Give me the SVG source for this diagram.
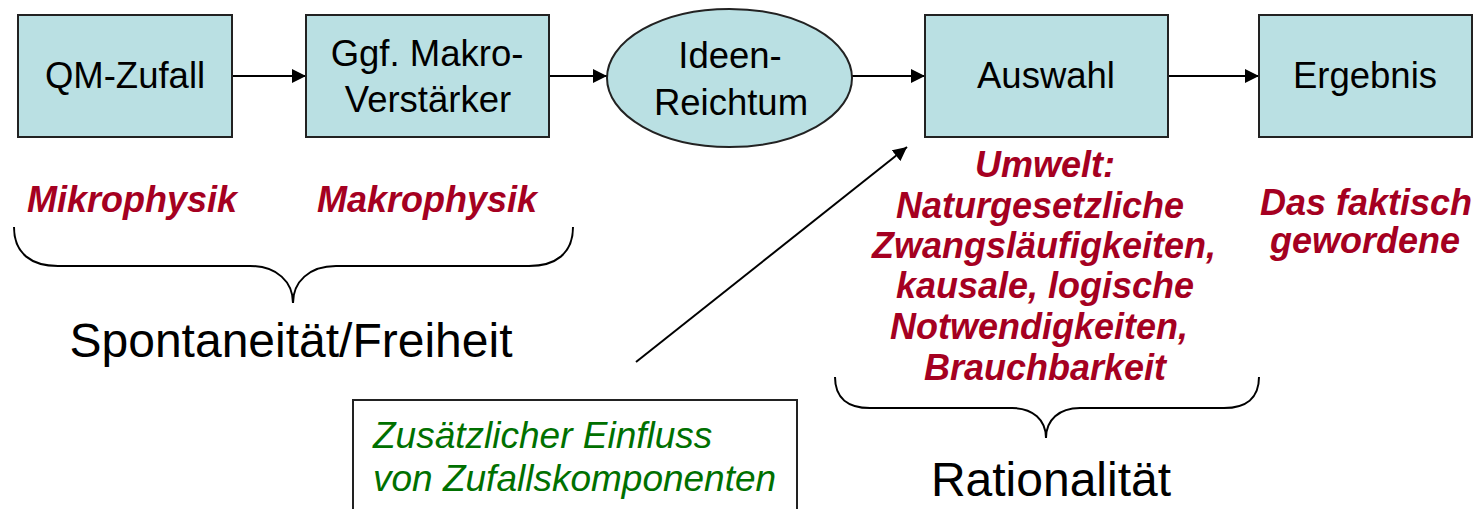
<svg xmlns="http://www.w3.org/2000/svg" width="1483" height="509" viewBox="0 0 1483 509">
<style>
.box{fill:#BAE0E3;stroke:#222;stroke-width:2}
.lbl{font-family:"Liberation Sans",Arial,sans-serif;font-size:36.5px;fill:#000;text-anchor:middle}
.red{font-family:"Liberation Sans",Arial,sans-serif;font-size:36px;font-weight:bold;font-style:italic;fill:#A50021;text-anchor:middle}
.big{font-family:"Liberation Sans",Arial,sans-serif;font-size:48px;fill:#000;text-anchor:middle}
.grn{font-family:"Liberation Sans",Arial,sans-serif;font-size:37px;font-style:italic;fill:#007000}
.con{stroke:#000;stroke-width:2;fill:none}
</style>
<defs>
<marker id="ah" markerUnits="userSpaceOnUse" markerWidth="16" markerHeight="14" refX="14" refY="7" orient="auto">
<path d="M0,0 L14,7 L0,14 Z" fill="#000"/>
</marker>
</defs>
<rect width="1483" height="509" fill="#fff"/>
<g id="connectors">
<line class="con" x1="232" y1="76" x2="306" y2="76" marker-end="url(#ah)"/>
<line class="con" x1="549" y1="76" x2="607" y2="76" marker-end="url(#ah)"/>
<line class="con" x1="852" y1="76" x2="925" y2="76" marker-end="url(#ah)"/>
<line class="con" x1="1168" y1="76" x2="1259" y2="76" marker-end="url(#ah)"/>
<line class="con" x1="636" y1="362" x2="907" y2="147" marker-end="url(#ah)"/>
</g>
<g id="qm">
<rect class="box" x="18" y="15" width="214" height="122"/>
<text class="lbl" x="125" y="88">QM-Zufall</text>
</g>
<g id="makro">
<rect class="box" x="306" y="15" width="243" height="122"/>
<text class="lbl" x="427" y="66">Ggf. Makro-</text>
<text class="lbl" x="428" y="112">Verstärker</text>
</g>
<g id="ideen">
<ellipse class="box" cx="729.5" cy="78" rx="122.5" ry="69"/>
<text class="lbl" x="730" y="68">Ideen-</text>
<text class="lbl" x="731" y="115">Reichtum</text>
</g>
<g id="auswahl">
<rect class="box" x="925" y="15" width="243" height="122"/>
<text class="lbl" x="1046" y="88">Auswahl</text>
</g>
<g id="ergebnis">
<rect class="box" x="1259" y="15" width="213" height="122"/>
<text class="lbl" x="1365" y="88">Ergebnis</text>
</g>
<g id="mikro">
<text class="red" x="132" y="212">Mikrophysik</text>
</g>
<g id="makrophysik">
<text class="red" x="427" y="212">Makrophysik</text>
</g>
<g id="brace1">
<path class="con" d="M14,227 C14,254 32,266 58,266 L250,266 C277,266 293,282 293,303 C293,282 309,266 336,266 L529,266 C555,266 573,254 573,227"/>
<text class="big" x="291" y="357">Spontaneität/Freiheit</text>
</g>
<g id="umwelt">
<text class="red" x="1045" y="177">Umwelt:</text>
<text class="red" x="1040" y="218">Naturgesetzliche</text>
<text class="red" x="1044" y="258">Zwangsläufigkeiten,</text>
<text class="red" x="1045" y="298">kausale, logische</text>
<text class="red" x="1039" y="339">Notwendigkeiten,</text>
<text class="red" x="1045" y="380">Brauchbarkeit</text>
</g>
<g id="faktisch">
<text class="red" x="1366" y="215">Das faktisch</text>
<text class="red" x="1365" y="253">gewordene</text>
</g>
<g id="brace2">
<path class="con" d="M835,377 C835,398 848,408 870,408 L1012,408 C1033,408 1046,420 1046,438 C1046,420 1059,408 1080,408 L1224,408 C1246,408 1259,398 1259,377"/>
<text class="big" x="1051" y="496">Rationalität</text>
</g>
<g id="zufall">
<rect x="353" y="400" width="444" height="130" fill="#fff" stroke="#222" stroke-width="2"/>
<text class="grn" x="373" y="448">Zusätzlicher Einfluss</text>
<text class="grn" x="373" y="491">von Zufallskomponenten</text>
</g>
</svg>
